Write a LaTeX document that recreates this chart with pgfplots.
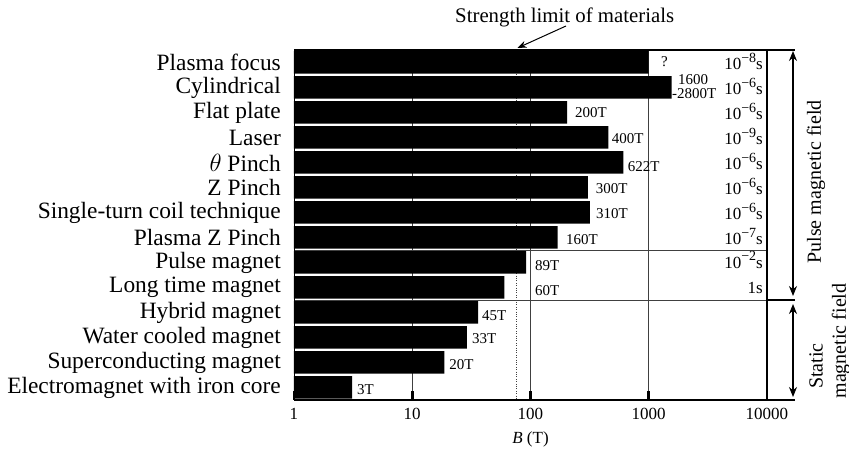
\documentclass[border=0pt]{standalone}
\usepackage{pgfplots}
\pgfplotsset{compat=1.18}
\usepackage{fontspec}
\setmainfont{Liberation Serif}
\usetikzlibrary{arrows.meta}
\newcommand\vlab{\fontsize{15}{15}\selectfont}
\newcommand\tlab{\fontsize{17}{17}\selectfont}
\newcommand\tl[1]{10\raisebox{7.5pt}{\fontsize{14}{14}\selectfont −#1}s}
\begin{document}
\begin{tikzpicture}[x=1pt,y=1pt]
\begin{axis}[
 at={(294pt,54pt)}, anchor=south west,
 scale only axis, width=473pt, height=350pt,
 xmode=log, xmin=1, xmax=10000,
 ymin=-0.5, ymax=13.5, y dir=reverse,
 axis line style={draw=none},
 xtick={1,10,100,1000,10000},
 xticklabels={1,10,100,1000,10000},
 xtick pos=bottom, xtick align=inside,
 major tick length=9pt,
 xtick style={line width=2.6pt, black},
 minor x tick style={draw=none},
 xticklabel style={font=\fontsize{17}{17}\selectfont, inner sep=0pt, yshift=-8pt},
 ytick={0,...,13},
 yticklabels={Plasma focus, Cylindrical, Flat plate, Laser, {$\theta$ Pinch}, Z Pinch, Single-turn coil technique, Plasma Z Pinch, Pulse magnet, Long time magnet, Hybrid magnet, Water cooled magnet, Superconducting magnet, Electromagnet with iron core},
 ytick style={draw=none},
 yticklabel style={font=\fontsize{23.4}{25}\selectfont, inner sep=0pt, xshift=-13pt},
 xmajorgrids, major grid style={black!75, line width=0.9pt},
 extra x ticks={76}, extra x tick labels={},
 extra x tick style={grid=major, grid style={dotted, black, line width=1.1pt}, major tick length=0pt},
 extra y ticks={7.5,9.5}, extra y tick labels={},
 extra y tick style={grid=major, grid style={black!80, line width=0.9pt}, major tick length=0pt},
 xlabel={\textit{B} (T)},
 xlabel style={font=\fontsize{17}{17}\selectfont, at={(axis description cs:0.5,0)}, anchor=north, inner sep=0pt, yshift=-32pt},
 clip=false,
]
\addplot[xbar, bar width=22.5pt, fill=black, draw=none] coordinates {
 (1000,0) (1560,1) (204,2) (455,3) (609,4) (306,5) (318,6) (170,7) (92,8) (60,9) (36,10) (29,11) (18.7,12) (3.1,13)};
% value labels
\node[anchor=west, inner sep=0, font=\vlab] at (axis cs:1270,-0.02) {?};
\node[anchor=west, inner sep=0, font=\vlab] at (axis cs:1767,0.7) {1600};
\node[anchor=west, inner sep=0, font=\vlab] at (axis cs:1573,1.24) {-2800T};
\node[anchor=west, inner sep=0, font=\vlab] at (axis cs:238,2.01) {200T};
\node[anchor=west, inner sep=0, font=\vlab] at (axis cs:486,3.06) {400T};
\node[anchor=west, inner sep=0, font=\vlab] at (axis cs:664,4.18) {622T};
\node[anchor=west, inner sep=0, font=\vlab] at (axis cs:356,5.06) {300T};
\node[anchor=west, inner sep=0, font=\vlab] at (axis cs:358,6.06) {310T};
\node[anchor=west, inner sep=0, font=\vlab] at (axis cs:199,7.1) {160T};
\node[anchor=west, inner sep=0, font=\vlab] at (axis cs:109,8.13) {89T};
\node[anchor=west, inner sep=0, font=\vlab] at (axis cs:109,9.13) {60T};
\node[anchor=west, inner sep=0, font=\vlab] at (axis cs:38.9,10.14) {45T};
\node[anchor=west, inner sep=0, font=\vlab] at (axis cs:32,11.03) {33T};
\node[anchor=west, inner sep=0, font=\vlab] at (axis cs:20.5,12.1) {20T};
\node[anchor=west, inner sep=0, font=\vlab] at (axis cs:3.41,13.1) {3T};
% time labels
\node[anchor=base east, inner sep=0, font=\tlab] at (axis cs:9250,0.3) {\tl{8}};
\node[anchor=base east, inner sep=0, font=\tlab] at (axis cs:9250,1.3) {\tl{6}};
\node[anchor=base east, inner sep=0, font=\tlab] at (axis cs:9250,2.3) {\tl{6}};
\node[anchor=base east, inner sep=0, font=\tlab] at (axis cs:9250,3.3) {\tl{9}};
\node[anchor=base east, inner sep=0, font=\tlab] at (axis cs:9250,4.3) {\tl{6}};
\node[anchor=base east, inner sep=0, font=\tlab] at (axis cs:9250,5.3) {\tl{6}};
\node[anchor=base east, inner sep=0, font=\tlab] at (axis cs:9250,6.3) {\tl{6}};
\node[anchor=base east, inner sep=0, font=\tlab] at (axis cs:9250,7.3) {\tl{7}};
\node[anchor=base east, inner sep=0, font=\tlab] at (axis cs:9250,8.24) {\tl{2}};
\node[anchor=base east, inner sep=0, font=\tlab] at (axis cs:9250,9.24) {1s};
\end{axis}
% frame
\draw[line width=1pt] (294,54) -- (294,404);
\draw[line width=1.4pt] (294,404) -- (795,404);
\draw[line width=1.4pt] (294,54) -- (795,54);
\draw[line width=2pt] (767,54) -- (767,404);
\draw[line width=1.8pt] (767,154) -- (795,154);
% annotation
\node[anchor=base, inner sep=0, font=\fontsize{20.8}{21}\selectfont] at (564.7,431.5) {Strength limit of materials};
\draw[line width=1pt, -{Stealth[length=9pt,width=7pt]}] (566,428) -- (517.5,406);
\draw[line width=1.2pt, {Stealth[length=10pt,width=8pt]}-{Stealth[length=10pt,width=8pt]}] (793,403) -- (793,158);
\draw[line width=1.2pt, {Stealth[length=10pt,width=8pt]}-{Stealth[length=10pt,width=8pt]}] (793,150) -- (793,57);
\node[rotate=90, inner sep=0, font=\fontsize{20}{20}\selectfont] at (816,272) {Pulse magnetic field};
\node[rotate=90, inner sep=0, font=\fontsize{20}{20}\selectfont] at (816,88) {Static};
\node[rotate=90, inner sep=0, font=\fontsize{20}{20}\selectfont] at (841,113) {magnetic field};
\pgfresetboundingbox
\path (0,0) rectangle (849,454);
\end{tikzpicture}
\end{document}
